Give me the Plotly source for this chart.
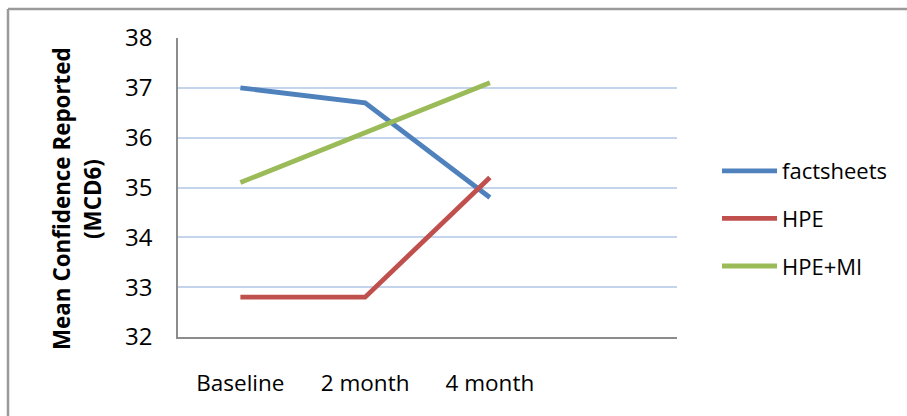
import plotly.graph_objects as go

categories = ["Baseline", "2 month", "4 month"]
axis_slots = ["Baseline", "2 month", "4 month", " "]
factsheets = [37.0, 36.7, 34.8]
hpe = [32.8, 32.8, 35.2]
hpe_mi = [35.1, 36.1, 37.1]
series_names = ["factsheets", "HPE", "HPE+MI"]
colors = ["#4F81BD", "#C0504D", "#9BBB59"]
y_ticks = [32, 33, 34, 35, 36, 37, 38]

FONT = "Open Sans"

fig = go.Figure()
for i, (name, vals) in enumerate(zip(series_names, [factsheets, hpe, hpe_mi])):
    fig.add_trace(go.Scatter(
        x=categories, y=vals, mode="lines", name=name,
        legendgroup=f"g{i}",
        line=dict(color=colors[i], width=4.8),
    ))

W, H = 907, 416
ml, mr, mt, mb = 178, 230, 38, 79
pw, ph = W - ml - mr, H - mt - mb

def px_x(x):
    return (x - ml) / pw

def px_y(y):
    return 1 - (y - mt) / ph

fig.update_layout(
    width=W, height=H,
    margin=dict(l=ml, r=mr, t=mt, b=mb, pad=0),
    paper_bgcolor="white", plot_bgcolor="white",
    font=dict(family=FONT, size=22, color="#000000"),
    showlegend=True,
    legend=dict(
        x=px_x(717), y=px_y(150), xanchor="left", yanchor="top",
        bgcolor="rgba(0,0,0,0)", tracegroupgap=16, itemwidth=55,
        font=dict(family=FONT, size=22, color="#000000"),
    ),
    xaxis=dict(
        type="category", categoryorder="array", categoryarray=axis_slots,
        range=[-0.5, 3.5], showgrid=False,
        showline=True, linecolor="#8c8c8c", linewidth=1.5,
        ticks="", tickvals=categories, ticktext=categories,
        ticklabelstandoff=25, tickfont=dict(size=22.5),
        fixedrange=True,
    ),
    yaxis=dict(
        range=[32, 38], tickvals=y_ticks, showgrid=True,
        gridcolor="#c3d4ec", gridwidth=1.5,
        showline=True, linecolor="#8c8c8c", linewidth=1.5,
        ticks="", ticklabelstandoff=19, tickfont=dict(size=24),
        zeroline=False,
    ),
)

# y-axis title as two rotated lines
fig.add_annotation(text="<b>Mean Confidence Reported</b>", xref="paper", yref="paper",
                   x=px_x(61), y=px_y(199), showarrow=False, textangle=-90,
                   font=dict(family=FONT, size=22.4, color="#000"),
                   xanchor="center", yanchor="middle")
fig.add_annotation(text="<b>(MCD6)</b>", xref="paper", yref="paper",
                   x=px_x(92), y=px_y(199), showarrow=False, textangle=-90,
                   font=dict(family=FONT, size=22.4, color="#000"),
                   xanchor="center", yanchor="middle")

# outer chart frame (top and left edges visible)
fig.add_shape(type="line", xref="paper", yref="paper",
              x0=px_x(8), x1=px_x(W + 5), y0=px_y(9), y1=px_y(9),
              line=dict(color="#9a9a9a", width=2.5))
fig.add_shape(type="line", xref="paper", yref="paper",
              x0=px_x(8), x1=px_x(8), y0=px_y(9), y1=px_y(H + 5),
              line=dict(color="#9a9a9a", width=2.5))

fig.write_html("out.html")
